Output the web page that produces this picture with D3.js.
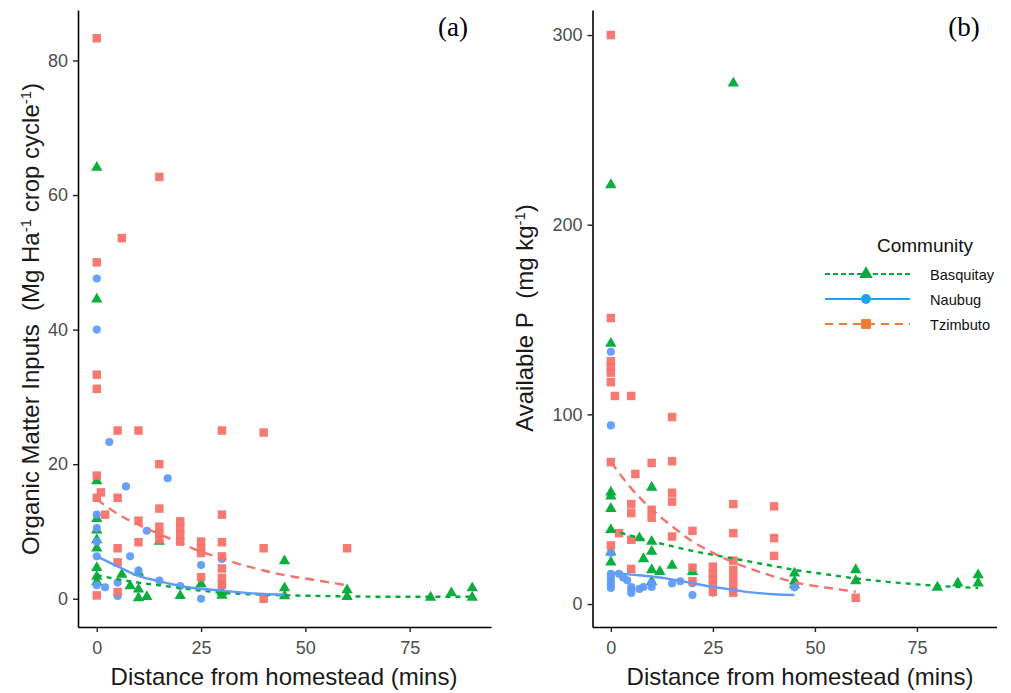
<!DOCTYPE html>
<html>
<head>
<meta charset="utf-8">
<script src="https://cdn.jsdelivr.net/npm/d3@7"></script>
<style>
  body { margin: 0; background: #fff; }
  text { font-family: "Liberation Sans", Arial, sans-serif; }
</style>
</head>
<body>
<svg id="chart" width="1011" height="693"></svg>
<script>
// ---- data ----
var communities = ["Basquitay", "Naubug", "Tzimbuto"];
var xTicks = [0, 25, 50, 75];
var yTicksA = [0, 20, 40, 60, 80];
var yTicksB = [0, 100, 200, 300];

// panel (a) organic matter inputs, [minutes, Mg/ha]
var basquitayA = [[0,64.1],[0,44.5],[0,17.5],[0,11.9],[0,10.2],[0,8.75],[0,7.5],[0,4.6],[0,3.3],[0,2.5],
  [6,3.6],[8,1.9],[10,3.9],[10,1.4],[10,0.1],[12,0.3],[15,8.5],[20,0.45],[25,2.2],[30,1.0],[30,0.5],
  [45,5.6],[45,1.6],[45,0.4],[60,1.3],[60,0.3],[80,0.2],[85,0.85],[90,1.6],[90,0.2]];
var naubugA = [[0,47.6],[0,40],[0,12.5],[0,10.5],[0,8.5],[0,6.3],[0,2],[2,1.7],[3,23.3],[5,2.4],[5,0.4],
  [7,16.7],[8,6.3],[10,4.2],[12,10.1],[15,2.7],[17,17.9],[20,1.9],[25,5],[25,0],[30,5.9],[30,1.9]];
var tzimbutoA = [[0,83.3],[0,50],[0,33.3],[0,31.2],[0,18.3],[0,15],[0,0.5],[1,15.8],[2,12.5],[5,25],[5,15],
  [5,7.5],[5,5.4],[5,1],[6,53.6],[10,25],[10,11.6],[10,8.4],[15,62.7],[15,20],[15,13.4],[15,10.7],[15,9.7],
  [15,8.8],[20,11.5],[20,10.5],[20,9.5],[20,8.5],[25,8.5],[25,7.5],[25,6.8],[25,3.2],[30,25],[30,12.5],
  [30,8.4],[30,6.3],[30,4.5],[30,3.1],[30,2.1],[40,24.7],[40,7.5],[40,0],[60,7.5]];

// panel (a) fitted curves
var fitBasquitayA = [[0,3.5],[5,2.9],[10,2.4],[15,2.0],[20,1.6],[25,1.2],[30,0.9],[40,0.6],[50,0.45],[60,0.35],[70,0.3],[80,0.3],[90,0.3]];
var fitNaubugA = [[0,6.3],[5,4.8],[10,3.4],[15,2.6],[20,1.9],[30,1.2],[40,0.7],[45,0.6]];
var fitTzimbutoA = [[0,14.8],[5,12.6],[10,11.0],[15,9.6],[20,8.3],[25,7.0],[30,6.0],[35,5.0],[40,4.2],[45,3.5],[50,3.0],[55,2.5],[60,2.0]];

// panel (b) available P, [minutes, mg/kg]
var basquitayB = [[0,221],[0,137.4],[0,58.9],[0,56.8],[0,50.3],[0,39.2],[0,27.3],[0,22],[7,34.8],[8,23.8],
  [10,61.5],[10,33],[10,27.7],[10,18],[10,11.8],[12,17.1],[15,20.3],[20,17.1],[30,274.6],[45,16.2],[45,12],
  [45,10],[60,18],[60,12.2],[80,8.8],[85,11],[90,15.3],[90,11]];
var naubugB = [[0,133],[0,94.2],[0,27],[0,16],[0,14],[0,12],[0,10],[0,8.5],[2,16],[3,14],[4,12.5],[5,9],
  [5,7.4],[5,5.8],[7,8],[8,9],[10,9],[10,11],[15,10.9],[17,12],[20,11],[20,4.8],[25,6],[30,7],[45,8.8]];
var tzimbutoB = [[0,300],[0,150.8],[0,128],[0,125],[0,122],[0,117],[0,74.8],[0,30.9],[1,109.7],[2,37.4],
  [5,109.7],[5,52.7],[5,48],[5,33.9],[5,18.5],[6,68.6],[10,74.4],[10,49.7],[10,45.5],[15,98.6],[15,75.3],
  [15,58.7],[15,54],[15,35.6],[20,38.6],[20,19.2],[20,12],[25,19.7],[25,16],[25,13],[25,10],[25,6.5],
  [30,52.7],[30,37.4],[30,22.9],[30,18],[30,14],[30,10],[30,6],[40,51.5],[40,34.8],[40,25.4],[60,3.3]];

// panel (b) fitted curves
var fitBasquitayB = [[0,39],[5,36],[10,33],[15,30.5],[20,28],[25,26],[30,24],[35,22],[40,20],[45,18],[50,16.5],
  [55,15],[60,13.5],[65,12.3],[70,11.3],[75,10.4],[80,9.6],[85,9],[90,8.5]];
var fitNaubugB = [[0,16.5],[5,15.5],[10,14.5],[15,13],[20,11],[25,9],[30,7.5],[35,6],[40,5.2],[45,4.8]];
var fitTzimbutoB = [[0,75],[5,61],[10,50],[15,41],[20,33],[25,27],[30,22],[35,18],[40,14.5],[45,11.5],[50,9.5],[55,8],[60,6.5]];

// ---- styles ----
var pointColor = { Basquitay: "#00aa35", Naubug: "#5f9cf8", Tzimbuto: "#f5736b" };
var legendColor = { Basquitay: "#00a84a", Naubug: "#1ea2f0", Tzimbuto: "#ee7a33" };
var dash = { Basquitay: "5,5", Naubug: null, Tzimbuto: "9,6" };
var symbols = { Basquitay: d3.symbolTriangle, Naubug: d3.symbolCircle, Tzimbuto: d3.symbolSquare };
var symSize = { Basquitay: 56, Naubug: 52, Tzimbuto: 72 };

var svg = d3.select("#chart");

function drawPanel(opt) {
  var x = d3.scaleLinear().domain([-4.5, 94.5]).range(opt.xRange);
  var y = d3.scaleLinear().domain(opt.yDomain).range([627, 10]);

  var g = svg.append("g");

  // points
  var sets = [["Basquitay", opt.pts[0]], ["Naubug", opt.pts[1]], ["Tzimbuto", opt.pts[2]]];
  sets.forEach(function (s) {
    g.selectAll(null)
      .data(s[1])
      .enter().append("path")
      .attr("d", d3.symbol().type(symbols[s[0]]).size(symSize[s[0]]))
      .attr("transform", function (d) { return "translate(" + x(d[0]) + "," + y(d[1]) + ")"; })
      .attr("fill", pointColor[s[0]])
      .attr("opacity", 0.95);
  });

  // fitted lines
  var line = d3.line().curve(d3.curveMonotoneX)
    .x(function (d) { return x(d[0]); })
    .y(function (d) { return y(d[1]); });
  var fits = [["Basquitay", opt.fits[0]], ["Naubug", opt.fits[1]], ["Tzimbuto", opt.fits[2]]];
  fits.forEach(function (f) {
    g.append("path")
      .datum(f[1])
      .attr("d", line)
      .attr("fill", "none")
      .attr("stroke", pointColor[f[0]])
      .attr("stroke-width", 2.4)
      .attr("stroke-dasharray", dash[f[0]]);
  });

  // axes
  var xAxis = g.append("g")
    .attr("transform", "translate(0,627)")
    .call(d3.axisBottom(x).tickValues(xTicks).tickSize(5).tickPadding(9).tickSizeOuter(0));
  var yAxis = g.append("g")
    .attr("transform", "translate(" + opt.xRange[0] + ",0)")
    .call(d3.axisLeft(y).tickValues(opt.yTicks).tickSize(5).tickPadding(5).tickSizeOuter(0));
  [xAxis, yAxis].forEach(function (a) {
    a.select(".domain").attr("stroke", "#000").attr("stroke-width", 1.6);
    a.selectAll(".tick line").attr("stroke", "#222").attr("stroke-width", 1.4);
    a.selectAll(".tick text")
      .attr("fill", "#4d4d4d")
      .style("font-size", "18px")
      .style("font-family", "'Liberation Sans', Arial, sans-serif");
  });

  // axis titles
  g.append("text")
    .attr("x", opt.xTitleX)
    .attr("y", 685)
    .attr("text-anchor", "middle")
    .attr("fill", "#1a1a1a")
    .style("font-size", "24px")
    .text("Distance from homestead (mins)");

  var yt = g.append("text")
    .attr("transform", "translate(" + opt.yTitleX + "," + opt.yTitleY + ") rotate(-90)")
    .attr("text-anchor", "middle")
    .attr("fill", "#1a1a1a")
    .style("font-size", "24px");
  opt.yTitle.forEach(function (part) {
    var t = yt.append("tspan").text(part[0]);
    if (part[1]) t.attr("baseline-shift", "super").style("font-size", "15px");
  });

  // panel tag
  svg.append("text")
    .attr("x", opt.tagX)
    .attr("y", 36)
    .attr("text-anchor", "middle")
    .style("font-family", "'Liberation Serif', 'Times New Roman', serif")
    .style("font-size", "27px")
    .attr("fill", "#000")
    .text(opt.tag);
}

drawPanel({
  xRange: [78, 491],
  yDomain: [-4.2, 87.5],
  yTicks: yTicksA,
  pts: [basquitayA, naubugA, tzimbutoA],
  fits: [fitBasquitayA, fitNaubugA, fitTzimbutoA],
  xTitleX: 284,
  yTitleX: 39, yTitleY: 319,
  yTitle: [["Organic Matter Inputs\u00a0\u00a0(Mg Ha"], ["-1", true], [" crop cycle"], ["-1", true], [")"]],
  tag: "(a)", tagX: 453
});

drawPanel({
  xRange: [592.5, 996.5],
  yDomain: [-12.1, 313.2],
  yTicks: yTicksB,
  pts: [basquitayB, naubugB, tzimbutoB],
  fits: [fitBasquitayB, fitNaubugB, fitTzimbutoB],
  xTitleX: 800,
  yTitleX: 533, yTitleY: 318,
  yTitle: [["Available P\u00a0\u00a0(mg kg"], ["-1", true], [")"]],
  tag: "(b)", tagX: 964
});

// legend
var legend = svg.append("g");
legend.append("text")
  .attr("x", 925)
  .attr("y", 252)
  .attr("text-anchor", "middle")
  .attr("fill", "#111")
  .style("font-size", "19px")
  .text("Community");

var keyY = [274, 299, 324];
communities.forEach(function (c, i) {
  var k = legend.append("g").attr("transform", "translate(0," + keyY[i] + ")");
  k.append("line")
    .attr("x1", 825).attr("x2", 910)
    .attr("stroke", legendColor[c])
    .attr("stroke-width", 2.2)
    .attr("stroke-dasharray", c === "Basquitay" ? "5,3" : (c === "Tzimbuto" ? "8,6" : null));
  k.append("path")
    .attr("d", d3.symbol().type(symbols[c]).size(symSize[c] + 24))
    .attr("transform", "translate(866,0)")
    .attr("fill", legendColor[c]);
  k.append("text")
    .attr("x", 930)
    .attr("y", 5.5)
    .attr("fill", "#111")
    .style("font-size", "14.6px")
    .text(c);
});
</script>
</body>
</html>
